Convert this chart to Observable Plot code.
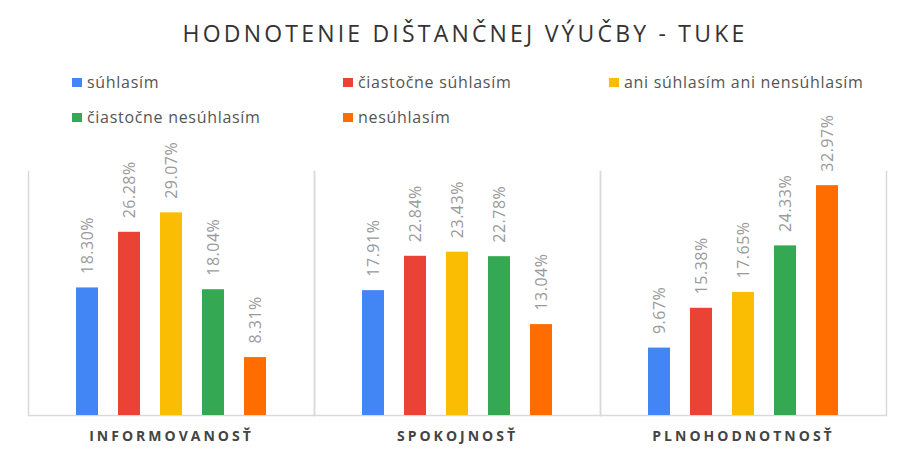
<!DOCTYPE html>
<html><head><meta charset="utf-8">
<script src="https://cdn.jsdelivr.net/npm/d3@7"></script>
<script src="https://cdn.jsdelivr.net/npm/@observablehq/plot@0.6"></script>
<style>
body{margin:0;background:#fff;font-family:"Open Sans",sans-serif;}
#wrap{width:906px;height:462px;position:relative;overflow:hidden;background:#fff}
#title{position:absolute;top:17px;left:0;width:906px;padding-left:24px;box-sizing:border-box;text-align:center;font-size:23px;letter-spacing:3.2px;color:#333;white-space:nowrap}
.item{position:absolute;font-size:16px;letter-spacing:0.7px;color:#555;display:flex;align-items:center;white-space:nowrap;transform:translateY(-50%)}
.sw{width:10px;height:9px;margin-right:5px;display:inline-block}
#chart{position:absolute;top:140px;left:0}
#chart g[aria-label="fx-axis tick label"] text{letter-spacing:3px}
#chart g[aria-label="text"] text{letter-spacing:0.5px}
</style>
</head><body>
<div id="wrap">
  <div id="title"></div>
  <div id="legend"></div>
  <div id="chart"></div>
</div>
<script>
const titleText = "HODNOTENIE DIŠTANČNEJ VÝUČBY - TUKE";
const categories = ["INFORMOVANOSŤ", "SPOKOJNOSŤ", "PLNOHODNOTNOSŤ"];
const series = ["súhlasím", "čiastočne súhlasím", "ani súhlasím ani nensúhlasím", "čiastočne nesúhlasím", "nesúhlasím"];
const colors = ["#4285f4", "#ea4335", "#fbbc04", "#34a853", "#ff6d01"];
const suhlasim = [18.30, 17.91, 9.67];
const ciastocneSuhlasim = [26.28, 22.84, 15.38];
const aniAni = [29.07, 23.43, 17.65];
const ciastocneNesuhlasim = [18.04, 22.78, 24.33];
const nesuhlasim = [8.31, 13.04, 32.97];
const seriesValues = [suhlasim, ciastocneSuhlasim, aniAni, ciastocneNesuhlasim, nesuhlasim];

const rows = [];
categories.forEach((c, ci) => series.forEach((s, si) => rows.push({cat: c, series: s, value: seriesValues[si][ci]})));

document.getElementById("title").textContent = titleText;

// legend layout (positions only)
const legendPos = [[72, 82], [343, 82], [609, 82], [72, 117], [343, 117]];
const legend = document.getElementById("legend");
series.forEach((s, i) => {
  const it = document.createElement("div");
  it.className = "item";
  it.style.left = legendPos[i][0] + "px";
  it.style.top = legendPos[i][1] + "px";
  const sw = document.createElement("span");
  sw.className = "sw";
  sw.style.background = colors[i];
  it.appendChild(sw);
  it.appendChild(document.createTextNode(s));
  legend.appendChild(it);
});

const chart = Plot.plot({
  width: 906,
  height: 322,
  marginTop: 31,
  marginBottom: 47,
  marginLeft: 27,
  marginRight: 20,
  style: {overflow: "visible", background: "transparent", fontFamily: "Open Sans, sans-serif"},
  fx: {domain: categories, padding: 0, label: null},
  x: {domain: series, paddingInner: 0.476, paddingOuter: 1.14, axis: null},
  y: {domain: [0, 35], axis: null},
  color: {domain: series, range: colors},
  marks: [
    Plot.frame({anchor: "left", stroke: "#d9d9d9", strokeWidth: 1.5}),
    Plot.frame({anchor: "right", stroke: "#d9d9d9", strokeWidth: 1.5}),
    Plot.ruleY([0], {stroke: "#d9d9d9", strokeWidth: 1.5}),
    Plot.barY(rows, {fx: "cat", x: "series", y: "value", fill: "series"}),
    Plot.text(rows, {fx: "cat", x: "series", y: "value", text: d => d.value.toFixed(2) + "%", rotate: -90, textAnchor: "start", dy: -14, fill: "#9a9a9a", fontSize: 16}),
    Plot.axisFx({anchor: "bottom", tickSize: 0, label: null, fontSize: 14, fontWeight: "bold", tickPadding: 16, color: "#444"})
  ]
});
document.getElementById("chart").appendChild(chart);
</script>
</body></html>
